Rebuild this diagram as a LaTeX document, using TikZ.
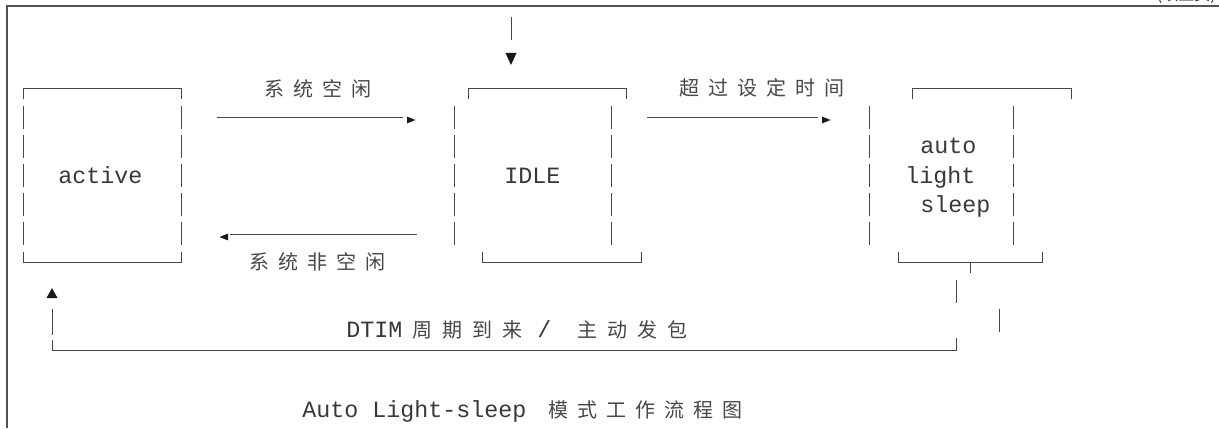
\documentclass[tikz,border=0pt]{standalone}
\usepackage{fontspec}
\setmonofont{Liberation Mono}
\newfontfamily\cjk{Noto Sans CJK SC}
\newlength\cpitch
\setlength\cpitch{21.75pt}
\newcommand\cc[1]{\makebox[\cpitch][l]{#1}}
\begin{document}
\begin{tikzpicture}[x=0.75pt,y=-0.75pt,
  ln/.style={draw=black!72, line width=0.6pt},
  frm/.style={draw=black!68, line width=0.9pt},
  vseg/.style={ln, dash pattern=on 17.25pt off 4.5pt},
  tri/.style={fill=black!90},
  mono/.style={font=\fontsize{17.5}{20}\selectfont\ttfamily, inner sep=0pt, text=black!78, anchor=base west},
  cj/.style={font=\fontsize{15}{18}\selectfont\cjk, inner sep=0pt, text=black!72, anchor=base west},
  cj30/.style={cj, execute at begin node={\setlength\cpitch{22.5pt}}}]
\useasboundingbox (0,0) rectangle (1219,428);
\clip (0,0) rectangle (1219,428);

% page frame and running header (cut off at the top edge, as in the reference)
\draw[frm] (7,428) -- (7,6) -- (1219,6);
\node[font=\fontsize{12}{14}\selectfont\cjk, inner sep=0pt, text=black!82, anchor=base east] (cont) at (1216,0.5) {(续上页)};

% ---- active box
\draw[ln] (23,99) -- (23,88) -- (181,88) -- (181,99);
\draw[ln] (23,252) -- (23,262) -- (181,262) -- (181,252);
\draw[vseg] (23,105.5) -- (23,244.5);
\draw[vseg] (181,105.5) -- (181,244.5);
\node[mono] (active) at (58,183) {active};

% ---- IDLE box
\draw[ln] (468,99) -- (468,88) -- (626,88) -- (626,99);
\draw[ln] (482,252) -- (482,262) -- (641,262) -- (641,252);
\draw[vseg] (454,105.5) -- (454,244.5);
\draw[vseg] (611,105.5) -- (611,244.5);
\node[mono] (idle) at (504,183) {IDLE};

% ---- auto light sleep box
\draw[ln] (912,99) -- (912,88) -- (1071,88) -- (1071,99);
\draw[ln] (898,252) -- (898,262) -- (1042,262) -- (1042,252);
\draw[vseg] (869,105.5) -- (869,244.5);
\draw[vseg] (1013,105.5) -- (1013,244.5);
\node[mono] (auto) at (920,153.5) {auto};
\node[mono] (light) at (905,183) {light};
\node[mono] (sleep) at (920,212) {sleep};
\coordinate (sbot) at (970,262);
\coordinate (stick) at (970,273);
\draw[ln] (sbot) -- (stick);

% ---- entry arrow into IDLE
\coordinate (in1) at (511,17);
\coordinate (in2) at (511,40);
\draw[ln] (in1) -- (in2);
\fill[tri] (505.5,53) -- (516.5,53) -- (511,65) -- cycle;

% ---- active -> IDLE
\coordinate (a1) at (217,117.5);
\coordinate (a2) at (403,117.5);
\draw[ln] (a1) -- (a2);
\fill[tri] (407,116.6) -- (415.5,120) -- (407,123.4) -- cycle;
\node[cj] (l1) at (264,96.6) {\cc{系}\cc{统}\cc{空}\cc{闲}};

% ---- IDLE -> active
\coordinate (b1) at (417,234.3);
\coordinate (b2) at (230,234.3);
\draw[ln] (b1) -- (b2);
\fill[tri] (228,233.6) -- (219.5,237) -- (228,240.4) -- cycle;
\node[cj] (l2) at (249,269.5) {\cc{系}\cc{统}\cc{非}\cc{空}\cc{闲}};

% ---- IDLE -> sleep
\coordinate (c1) at (647,117.5);
\coordinate (c2) at (818,117.5);
\draw[ln] (c1) -- (c2);
\fill[tri] (822,116.6) -- (830.5,120) -- (822,123.4) -- cycle;
\node[cj] (l3) at (679,95.6) {\cc{超}\cc{过}\cc{设}\cc{定}\cc{时}\cc{间}};

% ---- sleep -> active (feedback)
\coordinate (d1) at (956,280);
\coordinate (d2) at (956,303);
\draw[ln] (d1) -- (d2);
\coordinate (e1) at (999,309);
\coordinate (e2) at (999,332);
\draw[ln] (e1) -- (e2);
\coordinate (f1) at (956,338);
\coordinate (f2) at (956,350);
\coordinate (f3) at (52,350);
\coordinate (f4) at (52,340);
\draw[ln] (f1) -- (f2) -- (f3) -- (f4);
\coordinate (g1) at (52,335);
\coordinate (g2) at (52,309);
\draw[ln] (g1) -- (g2);
\fill[tri] (46.5,298) -- (57.5,298) -- (52,288) -- cycle;
\node[mono] (dtim) at (346,337) {DTIM};
\node[cj30] (l4a) at (412,337.6) {\cc{周}\cc{期}\cc{到}\cc{来}};
\node[mono] (slash) at (537,337) {/};
\node[cj30] (l4b) at (577,337.6) {\cc{主}\cc{动}\cc{发}\cc{包}};

% ---- caption
\node[mono] (cap1) at (302,417) {Auto Light-sleep};
\node[cj] (cap2) at (548,417.6) {\cc{模}\cc{式}\cc{工}\cc{作}\cc{流}\cc{程}\cc{图}};
\end{tikzpicture}
\end{document}
